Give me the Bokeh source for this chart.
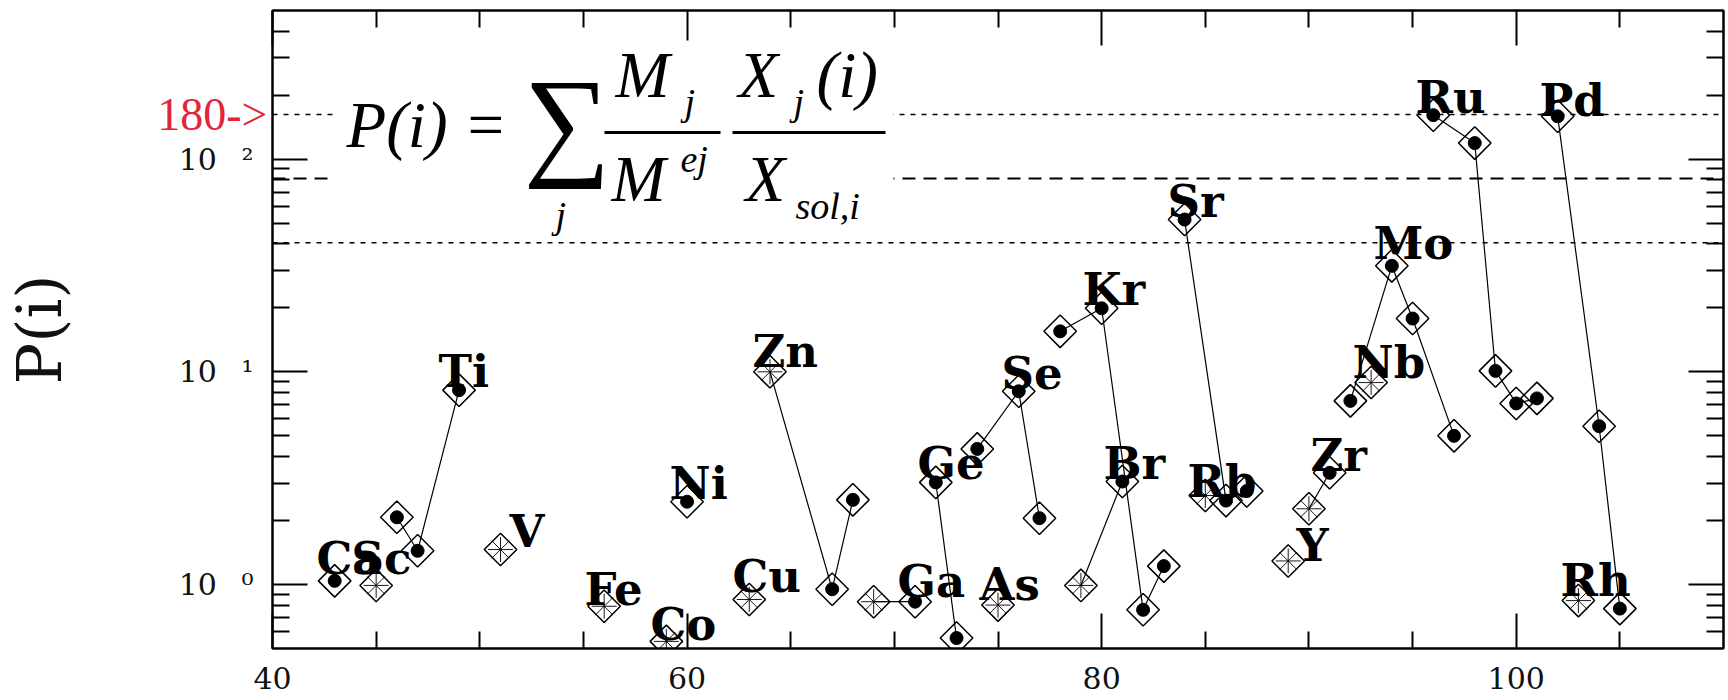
import math
from bokeh.plotting import figure
from bokeh.models import (LinearAxis, LogAxis, FixedTicker, Span, BoxAnnotation,
                          Label, ColumnDataSource, CustomJSTickFormatter)
from bokeh.core.properties import value
from bokeh.embed import file_html
from bokeh.resources import INLINE

# ---------------- data ----------------
iso_element = ["Ca", "Sc", "Ti", "Ti", "Ti", "V", "Fe", "Co", "Ni", "Cu",
               "Zn", "Zn", "Zn", "Ga", "Ga", "Ge", "Ge", "As", "Se", "Se", "Se",
               "Kr", "Kr", "Kr", "Kr", "Br", "Br", "Sr", "Sr", "Sr", "Rb", "Y",
               "Zr", "Zr", "Nb", "Mo", "Mo", "Mo", "Mo", "Ru", "Ru", "Ru", "Ru", "Ru",
               "Pd", "Pd", "Pd", "Rh"]
iso_mass = [43, 45, 46, 47, 49, 51, 56, 59, 60, 63,
            64, 67, 68, 69, 71, 72, 73, 75, 74, 76, 77,
            78, 80, 82, 83, 79, 81, 84, 86, 87, 85, 89,
            90, 91, 93, 92, 94, 95, 97, 96, 98, 99, 100, 101,
            102, 104, 105, 103]
iso_P = [1.04, 0.99, 2.07, 1.44, 8.2, 1.46, 0.79, 0.54, 2.45, 0.85,
         10.0, 0.95, 2.5, 0.83, 0.83, 3.02, 0.56, 0.80, 4.34, 8.1, 2.05,
         15.5, 19.9, 0.76, 1.22, 0.99, 3.05, 52.0, 2.48, 2.75, 2.62, 1.29,
         2.27, 3.35, 8.9, 7.3, 31.5, 17.8, 5.0, 161.0, 119.0, 10.1, 7.1, 7.5,
         159.0, 5.55, 0.77, 0.84]
iso_open = [0, 1, 0, 0, 0, 1, 1, 1, 0, 1,
            1, 0, 0, 1, 0, 0, 0, 1, 0, 0, 0,
            0, 0, 0, 0, 1, 0, 0, 0, 0, 1, 1,
            1, 0, 1, 0, 0, 0, 0, 0, 0, 0, 0, 0,
            0, 0, 0, 1]

label_elements = ["Ca", "Sc", "Ti", "V", "Fe", "Co", "Ni", "Cu", "Zn", "Ga", "Ge",
                  "As", "Se", "Kr", "Br", "Sr", "Rb", "Y", "Zr", "Nb", "Mo", "Ru",
                  "Pd", "Rh"]

x_ticks = [40, 60, 80, 100]
x_minor = [45, 50, 55, 65, 70, 75, 85, 90, 95, 105]
y_ticks = [1, 10, 100]
y_exponents = ["\u2070", "\u00b9", "\u00b2"]
y_minor = [0.6, 0.7, 0.8, 0.9, 2, 3, 4, 5, 6, 7, 8, 9,
           20, 30, 40, 50, 60, 70, 80, 90, 200, 300, 400]
ref_lines = [162.0, 81.0, 40.5]
ref_label = "180->"

# ---------------- layout ----------------
W, H = 1728, 700
FL, FR, FT, FB = 272, 1723, 10, 648
X_RANGE = (40, 110)
Y_RANGE = (0.5, 500)
L0, L1 = math.log10(Y_RANGE[0]), math.log10(Y_RANGE[1])


def px_x(px):
    return X_RANGE[0] + (px - FL) * (X_RANGE[1] - X_RANGE[0]) / (FR - FL)


def px_y(py):
    return 10 ** (L1 - (py - FT) * (L1 - L0) / (FB - FT))


# label anchor pixels (left, baseline)
LABEL_PX = {"Ca": (316, 577), "Sc": (351, 577), "Ti": (438, 390), "V": (509, 550),
            "Fe": (584, 608), "Co": (650, 643), "Ni": (669, 502), "Cu": (732, 595),
            "Zn": (752, 370), "Ga": (897, 600), "Ge": (917, 482), "As": (979, 603),
            "Se": (1001, 392), "Kr": (1082, 308), "Br": (1103, 482), "Sr": (1167, 220),
            "Rb": (1187, 500), "Y": (1296, 564), "Zr": (1310, 474), "Nb": (1352, 381),
            "Mo": (1373, 262), "Ru": (1415, 116), "Pd": (1539, 119), "Rh": (1560, 599)}
LBL_SIZE = 45
LBL_SHIFT = 0.43     # measured baseline offset of the renderer (em)
FORM_SHIFT = 0.36

p = figure(width=W, height=H, x_range=X_RANGE, y_range=Y_RANGE, y_axis_type="log",
           output_backend="svg", toolbar_location=None,
           min_border_left=FL, min_border_right=W - FR, min_border_top=FT,
           min_border_bottom=H - FB)
p.xgrid.visible = False
p.ygrid.visible = False
p.outline_line_color = "black"
p.outline_line_width = 2
p.background_fill_color = "white"
p.border_fill_color = "white"


def style_axis(ax):
    ax.axis_line_color = "black"
    ax.axis_line_width = 2
    ax.major_tick_in = 35
    ax.major_tick_out = 0
    ax.minor_tick_in = 17
    ax.minor_tick_out = 0
    ax.major_tick_line_color = "black"
    ax.minor_tick_line_color = "black"
    ax.major_tick_line_width = 2
    ax.minor_tick_line_width = 2


xa = p.xaxis[0]
xa.ticker = FixedTicker(ticks=x_ticks, minor_ticks=x_minor)
style_axis(xa)
xa.major_label_text_font = "DejaVu Serif"
xa.major_label_text_font_size = "30px"
xa.major_label_text_color = "#111111"
xa.major_label_standoff = 18

# y axis: "10" with the exponent
sup_js = "[" + ",".join("'%s'" % s for s in y_exponents) + "]"
ya = p.yaxis[0]
ya.ticker = FixedTicker(ticks=y_ticks, minor_ticks=y_minor)
style_axis(ya)
ya.formatter = CustomJSTickFormatter(
    code="const s = " + sup_js + "; const e = Math.round(Math.log10(tick));"
         " return '10\\u2002 ' + s[e];")
ya.major_label_text_font = "DejaVu Serif"
ya.major_label_text_font_size = "30px"
ya.major_label_text_color = "#111111"
ya.major_label_standoff = 19

# outer left axis carrying the red "180->" marker and the axis title
ra = LogAxis(ticker=FixedTicker(ticks=[ref_lines[0]], minor_ticks=[]),
             formatter=CustomJSTickFormatter(code="return '" + ref_label + "'"))
ra.axis_line_color = None
ra.major_tick_in = 0
ra.major_tick_out = 0
ra.minor_tick_in = 0
ra.minor_tick_out = 0
ra.major_label_standoff = -92
ra.major_label_text_font = "Liberation Serif"
ra.major_label_text_font_size = "46px"
ra.major_label_text_color = "#e3243b"
ra.axis_label = "P(i)"
ra.axis_label_text_font = "DejaVu Serif"
ra.axis_label_text_font_size = "62px"
ra.axis_label_text_font_style = "normal"
ra.axis_label_text_color = "#111111"
ra.axis_label_standoff = 78
p.add_layout(ra, "left")

blank = CustomJSTickFormatter(code="return ''")
top = LinearAxis(ticker=FixedTicker(ticks=x_ticks, minor_ticks=x_minor), formatter=blank,
                 major_label_standoff=0)
style_axis(top)
p.add_layout(top, "above")
right = LogAxis(ticker=FixedTicker(ticks=y_ticks, minor_ticks=y_minor), formatter=blank,
                major_label_standoff=0)
style_axis(right)
p.add_layout(right, "right")

# reference lines
dashes = ["5 6", "13 8", "5 6"]
widths = [1.5, 2, 1.5]
for v, d, w in zip(ref_lines, dashes, widths):
    p.add_layout(Span(location=v, dimension="width", line_color="black",
                      line_width=w, line_dash=d))

# chains of isotopes of one element
chains = {}
for el, a, pv in zip(iso_element, iso_mass, iso_P):
    chains.setdefault(el, []).append((a, pv))
xs, ys = [], []
for el, pts in chains.items():
    if len(pts) > 1:
        pts.sort()
        xs.append([q[0] for q in pts])
        ys.append([q[1] for q in pts])
p.multi_line(xs, ys, line_color="black", line_width=1.2)

src = ColumnDataSource(dict(x=iso_mass, y=iso_P, el=iso_element, op=iso_open))
p.scatter("x", "y", source=src, marker="square", angle=math.pi / 4, size=23,
          fill_alpha=0, line_color="black", line_width=1.5)
ox = [a for a, o in zip(iso_mass, iso_open) if o]
oy = [v for v, o in zip(iso_P, iso_open) if o]
fx = [a for a, o in zip(iso_mass, iso_open) if not o]
fy = [v for v, o in zip(iso_P, iso_open) if not o]
p.scatter(ox, oy, marker="asterisk", size=25, line_color="black", line_width=0.9)
p.scatter(fx, fy, marker="circle", size=13, fill_color="black", line_color="black")

# element labels
lx = [px_x(LABEL_PX[e][0]) for e in label_elements]
ly = [px_y(LABEL_PX[e][1] - LBL_SHIFT * LBL_SIZE) for e in label_elements]
p.text(lx, ly, text=label_elements, text_font=value("DejaVu Serif"),
       text_font_style="bold", text_font_size=f"{LBL_SIZE}px", text_align="left",
       text_baseline="alphabetic", text_color="black")

# formula box
p.add_layout(BoxAnnotation(left=px_x(333), right=px_x(893), top=px_y(40), bottom=px_y(236),
                           fill_color="white", fill_alpha=1, line_alpha=0))


def ftext(px, py, t, size, style="italic"):
    p.add_layout(Label(x=px_x(px), y=px_y(py - FORM_SHIFT * size), text=t,
                       text_font="Liberation Serif", text_font_style=style,
                       text_font_size=f"{size}px", text_color="black",
                       text_align="left", text_baseline="alphabetic"))


ftext(346, 148, "P(i)", 65)
ftext(467, 148, "=", 65, "normal")
ftext(523, 165, "\u2211", 122, "normal")
ftext(555, 228, "j", 38)
ftext(615, 98, "M", 65)
ftext(684, 115, "j", 38)
ftext(611, 202, "M", 65)
ftext(680, 172, "ej", 38)
ftext(738, 98, "X", 65)
ftext(793, 115, "j", 38)
ftext(816, 98, "(i)", 65)
ftext(745, 202, "X", 65)
ftext(795, 219, "sol,i", 38)
for a, b in [(604, 720), (732, 885)]:
    p.add_layout(BoxAnnotation(left=px_x(a), right=px_x(b), top=px_y(130.5),
                               bottom=px_y(133.5), fill_color="black", fill_alpha=1,
                               line_alpha=0))

open("out.html", "w").write(file_html(p, INLINE))
